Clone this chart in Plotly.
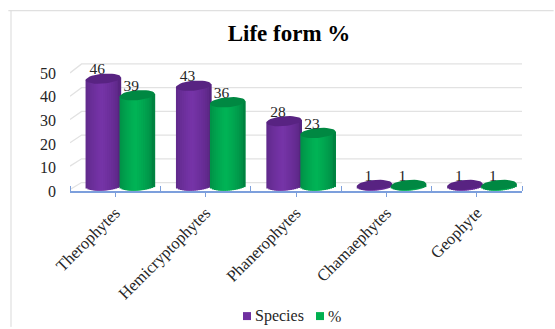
import math
import plotly.graph_objects as go

categories = ["Therophytes", "Hemicryptophytes", "Phanerophytes", "Chamaephytes", "Geophyte"]
species = [46, 43, 28, 1, 1]
percent = [39, 36, 23, 1, 1]
axis_ticks = [0, 10, 20, 30, 40, 50]

SERIF = "Liberation Serif"
TEXT = "#262626"
GRID = "#e2e2e2"
AXIS_BLUE = "#7c9fdc"

# Cylinder geometry in axis units
BAR_W = 0.39
HALF_H = 2.1       # half height of the elliptical caps
TILT = 0.6         # rise of the caps from left to right
FLOOR = 0.75       # centre of the cylinder base above zero
OFFSETS = {"species": -0.133, "percent": 0.243}
N_STRIPS = 18

PURPLE = {"edge": (78, 32, 116), "mid": (118, 52, 168), "cap": (88, 35, 130)}
GREEN = {"edge": (0, 116, 58), "mid": (0, 180, 86), "cap": (0, 136, 66)}


def shade(palette, t):
    # t runs from -1 to 1 across the cylinder; the highlight sits left of centre
    k = max(0.0, 1 - abs(t + 0.1) / 1.1) ** 0.5
    rgb = [round(a + (b - a) * k) for a, b in zip(palette["edge"], palette["mid"])]
    return f"rgb({rgb[0]},{rgb[1]},{rgb[2]})"


def cylinder_bars(values, offset, palette):
    traces = []
    w = BAR_W / N_STRIPS
    for i in range(N_STRIPS):
        t = -1 + (2 * i + 1) / N_STRIPS
        lift = TILT * t
        drop = HALF_H * math.sqrt(1 - t * t)
        # Each strip runs under its right neighbour so no seam shows between them
        strip_w = w if i == N_STRIPS - 1 else w * 2.2
        traces.append(go.Bar(
            x=list(range(len(values))),
            y=[max(v + lift - (FLOOR + lift - drop), 0) for v in values],
            base=[FLOOR + lift - drop] * len(values),
            width=strip_w,
            offset=offset + (t - 1 / N_STRIPS) * BAR_W / 2,
            yaxis="y2",
            marker=dict(color=shade(palette, t), line=dict(width=0)),
            showlegend=False,
            hoverinfo="skip",
        ))
    return traces


def cap(xc, value, color):
    xs, ys = [], []
    for deg in range(0, 361, 10):
        a = math.radians(deg)
        xs.append(xc + BAR_W / 2 * math.cos(a))
        ys.append(value + TILT * math.cos(a) + HALF_H * math.sin(a))
    return go.Scatter(x=xs, y=ys, yaxis="y2", mode="lines", fill="toself", fillcolor=color,
                      line=dict(width=0), showlegend=False, hoverinfo="skip",
                      cliponaxis=False)


fig = go.Figure()

# Back wall and its left edge, on a hidden axis that sits behind the cylinders
for tick in axis_ticks:
    fig.add_trace(go.Scatter(
        x=[-0.5, -0.372, 4.644],
        y=[tick * 0.982 - 2.9, tick, tick],
        yaxis="y", mode="lines", line=dict(color=GRID, width=1.3),
        showlegend=False, hoverinfo="skip", cliponaxis=False,
    ))

# Bodies, purple first so the green cylinders sit in front
for values, key, pal in ((species, "species", PURPLE), (percent, "percent", GREEN)):
    fig.add_traces(cylinder_bars(values, OFFSETS[key], pal))

for values, key, pal in ((species, "species", PURPLE), (percent, "percent", GREEN)):
    for i, v in enumerate(values):
        fig.add_trace(cap(i + OFFSETS[key], v, f"rgb{pal['cap']}"))

# Value labels above each cylinder
for values, key in ((species, "species"), (percent, "percent")):
    fig.add_trace(go.Scatter(
        x=[i + OFFSETS[key] - 0.066 for i in range(len(values))],
        y=[v + 0.2 for v in values],
        text=[str(v) for v in values],
        yaxis="y2", mode="text", textposition="top center",
        textfont=dict(family=SERIF, size=15.5, color=TEXT),
        showlegend=False, hoverinfo="skip", cliponaxis=False,
    ))

# Key drawn below the category labels
key_entries = [("Species", "#7030a0", 247, 253), ("%", "#00b050", 320, 326)]
key_shapes = []
key_notes = []
for label, color, swatch_px, text_px in key_entries:
    key_shapes.append(dict(
        type="rect", xref="paper", yref="paper",
        x0=(swatch_px - 4 - 70) / 452, x1=(swatch_px + 4 - 70) / 452,
        y0=(191.5 - 321) / 151.5, y1=(191.5 - 313) / 151.5,
        fillcolor=color, line=dict(width=0),
    ))
    key_notes.append(dict(
        text=label, xref="paper", yref="paper", showarrow=False,
        x=(text_px - 70) / 452, xanchor="left",
        y=(191.5 - 317) / 151.5, yanchor="middle",
        font=dict(family=SERIF, size=16, color=TEXT),
    ))

fig.update_layout(
    width=555, height=329,
    margin=dict(l=70, r=33, t=40, b=137.5, autoexpand=False),
    paper_bgcolor="white", plot_bgcolor="white",
    barmode="overlay",
    showlegend=False,
    title=dict(text="<b>Life form %</b>", x=289 / 555, xanchor="center",
               y=1 - 33 / 329, yanchor="middle",
               font=dict(family=SERIF, size=23, color="#000000")),
    xaxis=dict(
        range=[-0.5, 4.5], tickmode="array", tickvals=list(range(5)), ticktext=categories,
        tickangle=-45, ticks="outside", ticklen=4, tickcolor=AXIS_BLUE, tickwidth=1,
        showline=True, linecolor=AXIS_BLUE, linewidth=1.5, showgrid=False, zeroline=False,
        minor=dict(ticks="inside", tick0=-0.5, dtick=1, ticklen=5, tickcolor=AXIS_BLUE,
                   tickwidth=1, showgrid=False),
        tickfont=dict(family=SERIF, size=16.5, color=TEXT),
    ),
    yaxis=dict(range=[-3.57, 60.08], visible=False),
    yaxis2=dict(
        overlaying="y", side="left",
        range=[-1.56, 62.36], tickmode="array", tickvals=axis_ticks,
        showgrid=False, zeroline=False, showline=False, ticks="",
        ticklabelshift=4, ticklabelstandoff=13,
        tickfont=dict(family=SERIF, size=16, color=TEXT),
    ),
    annotations=key_notes,
    shapes=[
        dict(type="line", xref="paper", yref="paper", x0=-0.1365, x1=1.07, y0=1.194, y1=1.194,
             line=dict(color="#d9d9d9", width=1)),
        dict(type="line", xref="paper", yref="paper", x0=-0.1305, x1=-0.1305, y0=-0.9, y1=1.194,
             line=dict(color="#d9d9d9", width=1)),
    ] + key_shapes,
)

fig.write_html("out.html")
